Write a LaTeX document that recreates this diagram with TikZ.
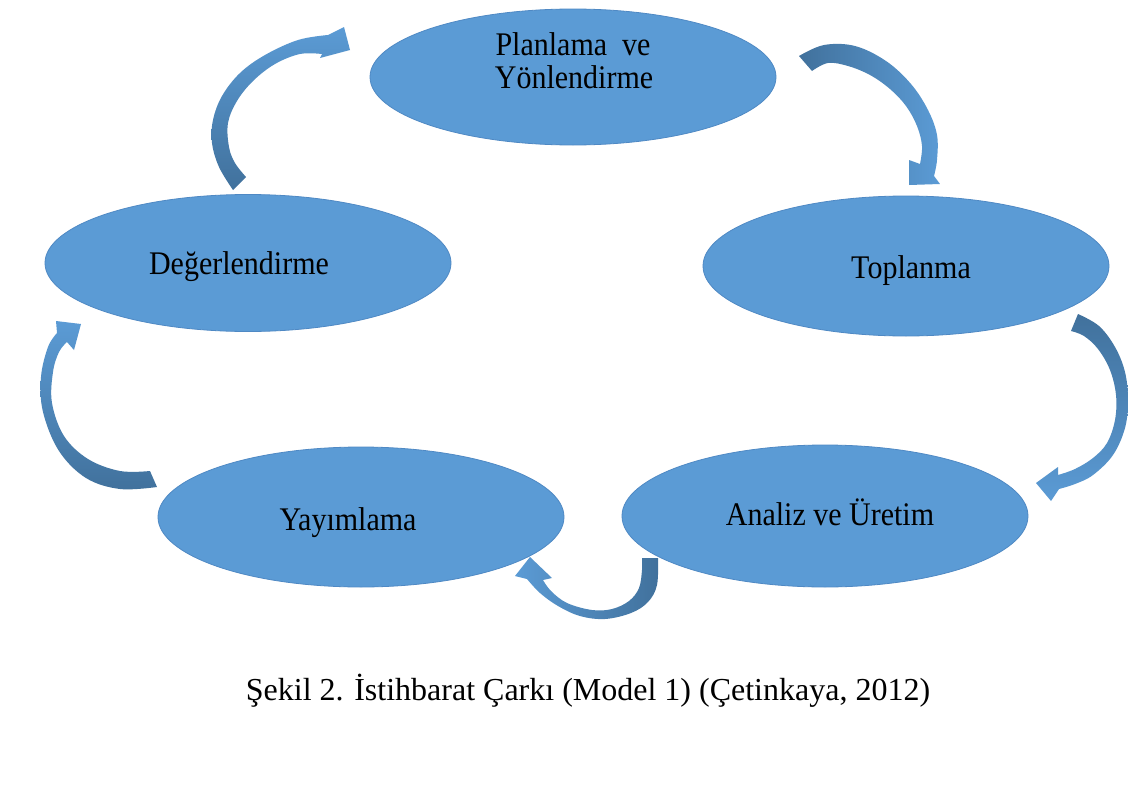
\documentclass[tikz,border=0pt]{standalone}
\usepackage{fontspec}
\setmainfont{Liberation Serif}
\usetikzlibrary{shapes.geometric}
\definecolor{ellfill}{HTML}{5B9BD5}
\definecolor{elldraw}{HTML}{4F89C4}
\definecolor{arrdark}{HTML}{41719C}
\definecolor{arrlight}{HTML}{5B9BD5}
\tikzset{
  phase/.style={ellipse, fill=ellfill, draw=elldraw, line width=0.8pt,
    minimum width=406pt, minimum height=136pt, inner sep=0pt},
  lbl/.style={font=\fontsize{30}{33}\selectfont, anchor=base, inner sep=0pt},
  captionstyle/.style={font=\fontsize{32}{35}\selectfont, anchor=base, inner sep=0pt},
  smoothedge/.style={smooth, tension=0.6}
}
\newcommand{\vstretch}[1]{\scalebox{1}[1.1]{#1}}
\begin{document}
\begin{tikzpicture}[x=1pt, y=-1pt]
\useasboundingbox (0,0) rectangle (1128,798);
\fill[white] (0,0) rectangle (1128,798);

% phases
\node[phase] (plan) at (573,77) {};
\node[phase, minimum height=137pt] (deger) at (248,263) {};
\node[phase, minimum height=140pt] (top) at (906,266) {};
\node[phase, minimum height=140pt] (yay) at (361,517) {};
\node[phase, minimum height=142pt] (anal) at (825,516) {};

% labels
\node[lbl] (plan1) at (573,55) {\vstretch{Planlama \ ve}};
\node[lbl] (plan2) at (574,88) {\vstretch{Yönlendirme}};
\node[lbl] (degert) at (239,274) {\vstretch{Değerlendirme}};
\node[lbl] (topt) at (911,278) {\vstretch{Toplanma}};
\node[lbl] (yayt) at (348,530) {\vstretch{Yayımlama}};
\node[lbl] (analt) at (830,525) {\vstretch{Analiz ve Üretim}};

% arrow 1: Degerlendirme -> Planlama
\shade[top color=arrlight, bottom color=arrdark]
  plot[smoothedge] coordinates {(233,190) (219,167) (212,143) (213,120) (222,96) (240,73) (265,55) (298,40) (328,35)}
  -- (344,27) -- (350,50) -- (320,58)
  -- plot[smoothedge] coordinates {(322,54) (300,54) (275,64) (253,81) (237,101) (228,123) (229,147) (235,163) (246,177)}
  -- cycle;

% arrow 2: Planlama -> Toplanma
\shade[left color=arrdark, right color=arrlight]
  plot[smoothedge] coordinates {(799,56) (824,45) (855,46) (886,61) (911,84) (928,110) (937,135) (937,160) (934,176)}
  -- (940,184) -- (909,185) -- (909,160)
  -- plot[smoothedge] coordinates {(920,164) (922,146) (917,126) (906,106) (890,89) (870,75) (848,66) (828,63) (812,71)}
  -- cycle;

% arrow 3: Toplanma -> Analiz
\shade[top color=arrdark, bottom color=arrlight]
  plot[smoothedge] coordinates {(1078,314) (1099,326) (1115,347) (1125,372) (1128,400) (1125,428) (1113,455) (1093,475) (1075,484) (1059,489)}
  -- (1051,501) -- (1036,483) -- (1058,467)
  -- plot[smoothedge] coordinates {(1058,475) (1075,469) (1093,458) (1107,443) (1115,420) (1116,395) (1110,370) (1098,349) (1084,336) (1071,331)}
  -- cycle;

% arrow 4: Analiz -> Yayimlama
\shade[left color=arrlight, right color=arrdark]
  plot[smoothedge] coordinates {(658,558) (657,585) (648,602) (631,613) (605,619) (580,616) (558,606) (540,593) (527,579)}
  -- (515,576) -- (530,557) -- (552,578)
  -- plot[smoothedge] coordinates {(543,580) (551,591) (567,603) (592,610) (612,609) (629,601) (639,588) (642,570) (642,558)}
  -- cycle;

% arrow 5: Yayimlama -> Degerlendirme
\shade[top color=arrlight, bottom color=arrdark]
  plot[smoothedge] coordinates {(157,487) (120,489) (86,478) (59,451) (43,412) (41,377) (48,347) (57,333)}
  -- (56,321) -- (81,324) -- (74,350)
  -- plot[smoothedge] coordinates {(67,342) (59,352) (53,372) (52,403) (64,436) (88,459) (120,471) (150,471)}
  -- cycle;

% caption
\node[captionstyle] (caption) at (588,700) {Şekil 2. İstihbarat Çarkı (Model 1) (Çetinkaya, 2012)};
\end{tikzpicture}
\end{document}
